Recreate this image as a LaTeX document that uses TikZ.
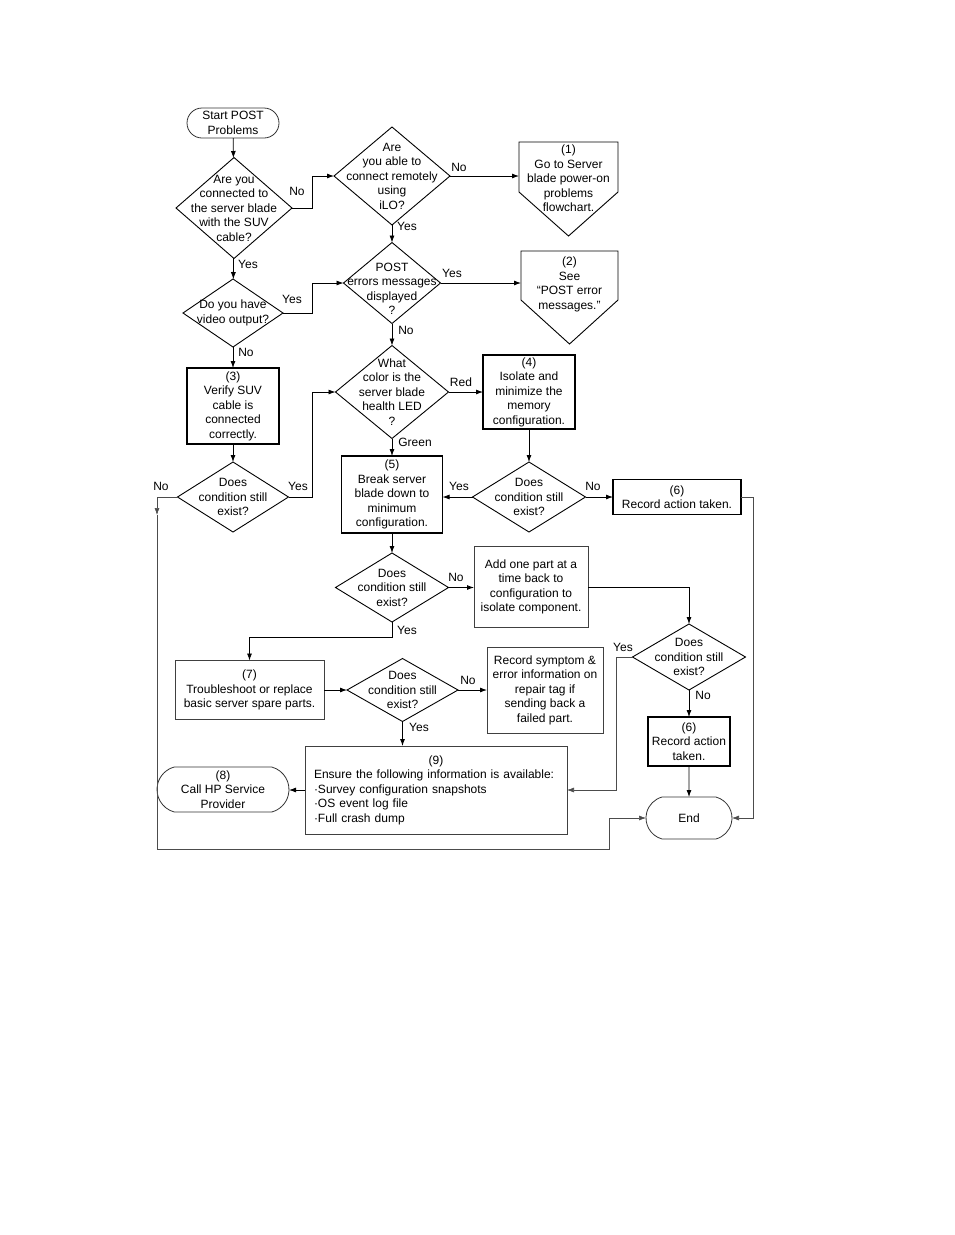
\documentclass[tikz,border=0pt]{standalone}
\usepackage{fontspec}
\setmainfont{Liberation Sans}
\usetikzlibrary{arrows.meta,shapes.geometric,shapes.misc,positioning}

\tikzset{
  txt/.style={font=\fontsize{12}{14.5}\selectfont, align=center, inner sep=0pt},
  dec/.style={diamond, draw, line width=0.9pt, inner sep=0pt, outer sep=0pt},
  proc/.style={rectangle, draw=black!75, line width=0.7pt, inner sep=0pt, outer sep=0pt, txt},
  act/.style={proc, draw=black, line width=1.3pt},
  term/.style={rounded rectangle, rounded rectangle arc length=150, draw=black!80,
    line width=0.8pt, inner sep=0pt, outer sep=0pt, txt},
  lbl/.style={txt},
  arr/.style={-{Latex[length=7pt,width=5pt]}, line width=0.8pt},
  back/.style={arr, draw=black!70, line width=0.6pt},
}

\begin{document}
\begin{tikzpicture}[x=1pt, y=-1pt]
  \useasboundingbox (0,0) rectangle (954,1235);

  % top part
  \node[term, rounded rectangle arc length=180, minimum width=92, minimum height=30]
    (start) at (233,123) {Start POST\\Problems};
  \node[dec, minimum width=116, minimum height=101,
    label={[txt]center:{Are you\\connected to\\the server blade\\with the SUV\\cable?}}]
    (d1) at (234,208) {};
  \node[dec, minimum width=116, minimum height=98,
    label={[txt]center:{Are\\you able to\\connect remotely\\using\\iLO?}}]
    (d2) at (392,176) {};
  \node[proc, draw=none, minimum width=99, minimum height=50,
    label={[txt, yshift=-11.5pt]center:{(1)\\Go to Server\\blade power-on\\problems\\flowchart.}}]
    (b1) at (568.5,167) {};
  \draw[line width=0.9pt] (b1.south west) |- (b1.north east) -- (b1.south east)
    -- ++(-49.5,44) -- cycle;
  \node[dec, minimum width=97, minimum height=81,
    label={[txt, yshift=-6pt]center:{POST\\errors messages\\displayed\\?}}]
    (d3) at (392,283) {};
  \node[proc, draw=none, minimum width=97, minimum height=49,
    label={[txt, yshift=-9pt]center:{(2)\\See\\“POST error\\messages.”}}]
    (b2) at (569.5,275.5) {};
  \draw[line width=0.9pt] (b2.south west) |- (b2.north east) -- (b2.south east)
    -- ++(-48.5,44) -- cycle;
  \node[dec, minimum width=100, minimum height=68,
    label={[txt]center:{Do you have\\video output?}}]
    (d5) at (233,313) {};

  % middle part
  \node[act, minimum width=92, minimum height=76] (b3) at (233,406)
    {(3)\\Verify SUV\\cable is\\connected\\correctly.};
  \node[dec, minimum width=111, minimum height=70,
    label={[txt]center:{Does\\condition still\\exist?}}]
    (d6) at (233,497) {};
  \node[dec, minimum width=113, minimum height=93,
    label={[txt]center:{What\\color is the\\server blade\\health LED\\?}}]
    (d4) at (392,392) {};
  \node[act, minimum width=92, minimum height=74] (b4) at (529,392)
    {(4)\\Isolate and\\minimize the\\memory\\configuration.};
  \node[dec, minimum width=113, minimum height=70,
    label={[txt]center:{Does\\condition still\\exist?}}]
    (d7) at (529,497) {};
  \node[act, minimum width=128, minimum height=35] (b6a) at (677,497)
    {(6)\\Record action taken.};
  \node[act, minimum width=101, minimum height=77] (b5) at (392,494.5)
    {(5)\\Break server\\blade down to\\minimum\\configuration.};
  \node[dec, minimum width=113, minimum height=69,
    label={[txt]center:{Does\\condition still\\exist?}}]
    (d8) at (392,587.5) {};
  \node[proc, minimum width=114, minimum height=81] (badd) at (531,587)
    {Add one part at a\\time back to\\configuration to\\isolate component.};
  \node[dec, minimum width=113, minimum height=66,
    label={[txt]center:{Does\\condition still\\exist?}}]
    (d9) at (689,657) {};
  \node[act, minimum width=82, minimum height=49] (b6b) at (689,741.5)
    {(6)\\Record action\\taken.};
  \node[term, minimum width=86, minimum height=42] (end) at (689,818) {End};

  % bottom part
  \node[proc, minimum width=149, minimum height=59] (b7) at (249.5,690)
    {(7)\\Troubleshoot or replace\\basic server spare parts.};
  \node[dec, minimum width=111, minimum height=63,
    label={[txt]center:{Does\\condition still\\exist?}}]
    (d10) at (402.5,690) {};
  \node[proc, minimum width=116, minimum height=86] (brec) at (545,690)
    {Record symptom \&\\error information on\\repair tag if\\sending back a\\failed part.};
  \node[proc, minimum width=262, minimum height=88, inner xsep=9pt, text width=244pt,
    align=left] (b9) at (436,790)
    {\makebox[\hsize]{(9)}\\Ensure the following information is available:\\
     ·Survey configuration snapshots\\·OS event log file\\·Full crash dump};
  \node[term, minimum width=132, minimum height=45] (b8) at (223,789.5)
    {(8)\\Call HP Service\\Provider};

  % connectors
  \draw[arr] (start) -- (d1);
  \draw[arr] (d1.east) -- ++(20,0) |- (d2.west);
  \draw[arr] (d2.east) -- (d2.east -| b1.west);
  \draw[arr] (d2) -- (d3);
  \draw[arr] (d3.east) -- (d3.east -| b2.west);
  \draw[arr] (d1) -- (d5);
  \draw[arr] (d5.east) -- ++(29,0) |- (d3.west);
  \draw[arr] (d5) -- (b3);
  \draw[arr] (d3) -- (d4);
  \draw[arr] (b3) -- (d6);
  \draw[arr] (d6.east) -- ++(24,0) |- (d4.west);
  \coordinate (c6) at (157,515);
  \draw[back] (d6.west) -| (c6);
  \draw[back] (c6) |- (609,849) |- (end.west);
  \draw[arr] (d4.east) -- (d4.east -| b4.west);
  \draw[arr] (d4) -- (b5);
  \draw[arr] (b4) -- (d7);
  \draw[arr] (d7.west) -- (d7.west -| b5.east);
  \draw[arr] (d7.east) -- (d7.east -| b6a.west);
  \draw[back] (b6a.east) -- ++(12,0) |- (end.east);
  \draw[arr] (b5) -- (d8);
  \draw[arr] (d8.east) -- (d8.east -| badd.west);
  \draw[arr] (badd.east) -| (d9.north);
  \draw[arr] (d8.south) -- ++(0,15) -| (b7.north);
  \draw[arr] (b7.east) -- (d10.west);
  \draw[arr] (d10.east) -- (brec.west);
  \draw[arr] (d10.south) -- (d10.south |- b9.north);
  \draw[back] (d9.west) -- ++(-16,0) |- (b9.east);
  \draw[arr] (d9) -- (b6b);
  \draw[arr] (b6b) -- (end);
  \draw[arr] (b9.west) -- (b9.west -| b8.east);

  % yes / no labels
  \node[lbl] (l1) at (297,191) {No};
  \node[lbl] (l2) at (459,167) {No};
  \node[lbl] (l3) at (407,226) {Yes};
  \node[lbl] (l4) at (452,273) {Yes};
  \node[lbl] (l5) at (406,330) {No};
  \node[lbl] (l6) at (248,264) {Yes};
  \node[lbl] (l7) at (292,299) {Yes};
  \node[lbl] (l8) at (246,352) {No};
  \node[lbl] (l9) at (298,486) {Yes};
  \node[lbl] (l10) at (161,486) {No};
  \node[lbl] (l11) at (461,382) {Red};
  \node[lbl] (l12) at (415,442) {Green};
  \node[lbl] (l13) at (459,486) {Yes};
  \node[lbl] (l14) at (593,486) {No};
  \node[lbl] (l15) at (456,577) {No};
  \node[lbl] (l16) at (407,630) {Yes};
  \node[lbl] (l17) at (623,647) {Yes};
  \node[lbl] (l18) at (703,695) {No};
  \node[lbl] (l19) at (468,680) {No};
  \node[lbl] (l20) at (419,727) {Yes};
\end{tikzpicture}
\end{document}
